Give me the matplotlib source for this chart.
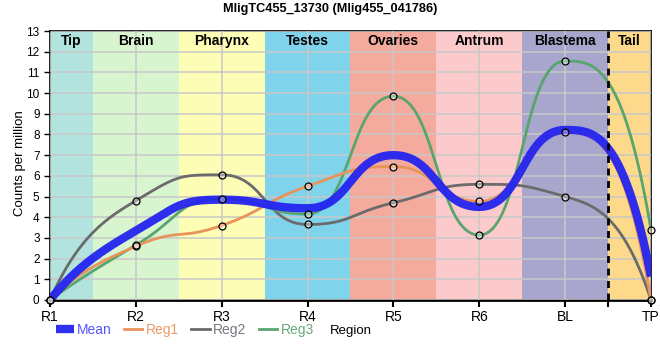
import numpy as np
import matplotlib
matplotlib.use('Agg')
import matplotlib.pyplot as plt

plt.rcParams['font.family'] = ['Liberation Sans', 'DejaVu Sans']

# Data
regions = ['R1', 'R2', 'R3', 'R4', 'R5', 'R6', 'BL', 'TP']
reg1 = [0.0, 2.60, 3.60, 5.50, 6.45, 4.77, 8.10, 0.0]
reg2 = [0.0, 4.80, 6.05, 3.65, 4.70, 5.59, 5.00, 0.0]
reg3 = [0.0, 2.65, 4.90, 4.15, 9.85, 3.14, 11.55, 3.40]

band_names = ['Tip', 'Brain', 'Pharynx', 'Testes', 'Ovaries', 'Antrum', 'Blastema', 'Tail']
band_edges = [0, 0.5, 1.5, 2.5, 3.5, 4.5, 5.5, 6.5, 7]
band_colors = ['#b3e3de', '#d8f5d0', '#fdfdb5', '#7fd3eb', '#f4aa9c', '#fdcacb', '#a8a6cd', '#fdd98b']


def spline_path(y, a=0.5, n=80):
    # bezier spline with clamped (non-overshooting) control points
    y = np.asarray(y, float)
    N = len(y)
    lc = y.copy()
    rc = y.copy()
    for i in range(1, N - 1):
        last, cur, nxt = y[i - 1], y[i], y[i + 1]
        left = (cur + last) / 2
        right = (cur + nxt) / 2
        corr = (right - left) * a / (2 * a) + cur - right
        left += corr
        right += corr
        if left > last and left > cur:
            left = max(last, cur)
            right = 2 * cur - left
        elif left < last and left < cur:
            left = min(last, cur)
            right = 2 * cur - left
        if right > nxt and right > cur:
            right = max(nxt, cur)
            left = 2 * cur - right
        elif right < nxt and right < cur:
            right = min(nxt, cur)
            left = 2 * cur - right
        lc[i], rc[i] = left, right
    m = (rc - y) / a
    s = np.linspace(0, 1, n)
    xs, ys = [], []
    for k in range(N - 1):
        y0, y1 = y[k], y[k + 1]
        if k == 0 or k == N - 2:
            # end segments: hermite
            if k == 0:
                d1 = m[1]
                d0 = 3 * (y1 - y0) - 2 * d1
            else:
                d0 = m[k]
                d1 = 3 * (y1 - y0) - 2 * d0
            h00 = 2 * s**3 - 3 * s**2 + 1
            h10 = s**3 - 2 * s**2 + s
            h01 = -2 * s**3 + 3 * s**2
            h11 = s**3 - s**2
            xs.append(k + s)
            ys.append(h00 * y0 + h10 * d0 + h01 * y1 + h11 * d1)
        else:
            px = [k, k + a, k + 1 - a, k + 1]
            py = [y0, rc[k], lc[k + 1], y1]
            b = [(1 - s)**3, 3 * s * (1 - s)**2, 3 * s**2 * (1 - s), s**3]
            xs.append(sum(bi * p for bi, p in zip(b, px)))
            ys.append(sum(bi * p for bi, p in zip(b, py)))
    return np.concatenate(xs), np.concatenate(ys)


mean = (np.array(reg1) + np.array(reg2) + np.array(reg3)) / 3
xpos = np.arange(len(regions))

fig = plt.figure(figsize=(6.6, 3.6), dpi=100)
ax = fig.add_axes([50 / 660, 1 - 300 / 360, 601 / 660, 269 / 360])

for i, name in enumerate(band_names):
    ax.axvspan(band_edges[i], band_edges[i + 1], color=band_colors[i], lw=0, zorder=0)
    ax.text((band_edges[i] + band_edges[i + 1]) / 2, 12.85, name, ha='center', va='top',
            fontsize=10, fontweight='bold', zorder=5)

ax.set_yticks(range(0, 14))
ax.set_xticks(xpos)
ax.set_xticks([6.5], minor=True)
ax.set_xticklabels(regions, fontsize=10)
ax.tick_params(axis='y', labelsize=8.5, length=4, width=1)
ax.tick_params(axis='x', which='both', length=5, width=1.5, pad=2)
ax.grid(True, color='#c8c8c8', lw=1.1, zorder=1)
ax.set_axisbelow(False)

ax.axvline(6.5, color='black', lw=2, ls=(0, (2.5, 2)), zorder=6)

x2, y2 = spline_path(reg2)
x3, y3 = spline_path(reg3)
x1, y1 = spline_path(reg1)
xm, ym = spline_path(mean)
ax.plot(x2, y2, color='#6b6b6b', lw=2, zorder=3, label='Reg2')
ax.plot(x3, y3, color='#5aa46e', lw=2, zorder=3, label='Reg3')
ax.plot(x1, y1, color='#e8935a', lw=2, zorder=3, label='Reg1')
ax.plot(xm, ym, color='#2424f0', lw=6, alpha=0.95, zorder=4, label='Mean',
        solid_capstyle='butt')

for vals in (reg1, reg2, reg3):
    ax.plot(xpos, vals, ls='none', marker='o', ms=5, mfc=(1, 1, 1, 0.35),
            mec='black', mew=0.9, zorder=7, clip_on=False)

ax.set_xlim(0, 7)
ax.set_ylim(0, 13)
for side in ['left', 'right', 'top']:
    ax.spines[side].set_linewidth(1.2)
ax.spines['bottom'].set_linewidth(2)

fig.text(20 / 660, 1 - 163 / 360, 'Counts per million', rotation=90, fontsize=9.5,
         ha='center', va='center')
fig.text(330 / 660, 1 - 9 / 360, 'MligTC455_13730 (Mlig455_041786)', fontsize=9.2,
         fontweight='bold', ha='center', va='center')

# legend below plot
handles, labels = ax.get_legend_handles_labels()
order = [labels.index(l) for l in ['Mean', 'Reg1', 'Reg2', 'Reg3']]
leg = fig.legend([handles[i] for i in order], [labels[i] for i in order],
                 loc='center left', bbox_to_anchor=(50 / 660, 1 - 330 / 360), ncol=4,
                 frameon=False, fontsize=10, handlelength=1.3, handletextpad=0.25,
                 columnspacing=0.9, borderaxespad=0)
text_colors = {'Mean': '#5555ff', 'Reg1': '#eb9a66', 'Reg2': '#77777f', 'Reg3': '#66aa77'}
for t in leg.get_texts():
    t.set_color(text_colors[t.get_text()])
fig.text(330 / 660, 1 - 331 / 360, 'Region', fontsize=9.5, va='center', ha='left')

fig.savefig('out.png', dpi=100)
